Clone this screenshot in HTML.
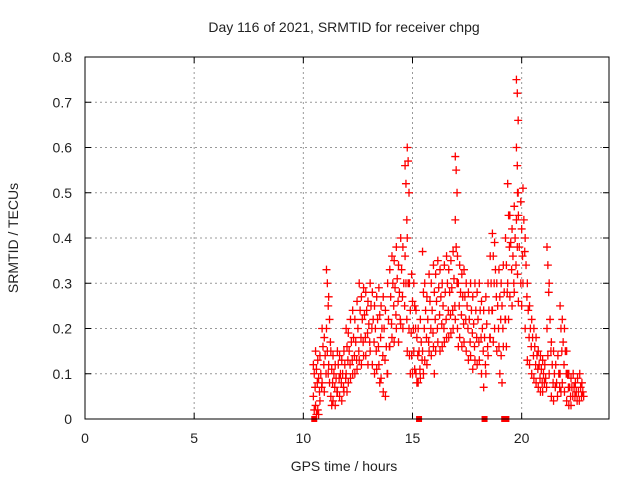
<!DOCTYPE html>
<html><head><meta charset="utf-8"><style>
body{margin:0;background:#fff}
svg text{font-family:"Liberation Sans",sans-serif;font-size:14px;fill:#222}
</style></head><body>
<svg id="chart" width="640" height="480" xmlns="http://www.w3.org/2000/svg">
<text x="344" y="32" text-anchor="middle">Day 116 of 2021, SRMTID for receiver chpg</text>
<text x="344" y="471" text-anchor="middle">GPS time / hours</text>
<text x="18" y="238" text-anchor="middle" transform="rotate(-90 18 238)">SRMTID / TECUs</text>
<g id="grid"></g>
<g id="ticks"></g>
<g id="points"></g>
<rect x="85" y="57" width="524" height="362" fill="none" stroke="#000" stroke-width="1"/>
</svg>
<script>
const xTicks=[0,5,10,15,20];
const yTicks=[0,0.1,0.2,0.3,0.4,0.5,0.6,0.7,0.8];
const yTickLabels=["0","0.1","0.2","0.3","0.4","0.5","0.6","0.7","0.8"];
const sampleHours=[10.5,10.6,10.7,10.8,10.9,11.0,11.1,11.2,11.3,11.4,11.5,11.6,11.7,11.8,11.9,12.0,12.1,12.2,12.3,12.4,12.5,12.6,12.7,12.8,12.9,13.0,13.1,13.2,13.3,13.4,13.5,13.6,13.7,13.8,13.9,14.0,14.1,14.2,14.3,14.4,14.5,14.6,14.7,14.8,14.9,15.0,15.1,15.2,15.3,15.4,15.5,15.6,15.7,15.8,15.9,16.0,16.1,16.2,16.3,16.4,16.5,16.6,16.7,16.8,16.9,17.0,17.1,17.2,17.3,17.4,17.5,17.6,17.7,17.8,17.9,18.0,18.1,18.2,18.3,18.4,18.5,18.6,18.7,18.8,18.9,19.0,19.1,19.2,19.3,19.4,19.5,19.6,19.7,19.8,19.85,20.0,20.1,20.2,20.3,20.4,20.5,20.6,20.7,20.8,20.9,21.0,21.1,21.2,21.3,21.4,21.5,21.6,21.7,21.8,21.9,22.0,22.1,22.2,22.3,22.4,22.5,22.6,22.7,22.8];
const sampleValues=[
[0.12,0.1,0.07,0.05,0.02],[0.15,0.11,0.08,0.03,0.01],[0.13,0.09,0.06,0.02,0.01],[0.14,0.1,0.07,0.04],[0.2,0.16,0.12,0.08],[0.18,0.14,0.1,0.06],
[0.33,0.3,0.25,0.2,0.15,0.1],[0.27,0.22,0.17,0.12,0.08],[0.15,0.11,0.08,0.05,0.03],[0.14,0.1,0.07,0.04],[0.12,0.09,0.06,0.03],[0.15,0.12,0.09,0.06],[0.14,0.1,0.08,0.05],[0.13,0.1,0.07,0.04],[0.15,0.12,0.09,0.06],
[0.2,0.16,0.13,0.1,0.06],[0.19,0.15,0.12,0.08],[0.22,0.17,0.13,0.09],[0.24,0.18,0.14,0.1],[0.22,0.17,0.13,0.1],[0.26,0.2,0.15,0.11],[0.3,0.24,0.18,0.13],[0.27,0.22,0.17,0.12],[0.29,0.23,0.18,0.14],[0.28,0.24,0.19,0.14],
[0.26,0.21,0.17,0.12],[0.3,0.25,0.2,0.15],[0.28,0.22,0.17,0.12],[0.25,0.2,0.15,0.1],[0.27,0.22,0.16,0.11],[0.29,0.23,0.18,0.12,0.08],[0.25,0.2,0.14,0.09],[0.27,0.2,0.13,0.06],[0.24,0.16,0.1,0.05],[0.3,0.22,0.16,0.1],
[0.33,0.27,0.21,0.16],[0.36,0.3,0.25,0.18],[0.35,0.29,0.23,0.17],[0.38,0.31,0.26,0.2],[0.34,0.28,0.22,0.17],[0.4,0.33,0.27,0.21],[0.38,0.3,0.25,0.2],[0.56,0.52,0.44,0.36,0.3,0.22],[0.6,0.57,0.5,0.4,0.3,0.2,0.15],[0.3,0.24,0.19,0.14,0.1],
[0.32,0.26,0.2,0.14,0.1],[0.3,0.25,0.2,0.15,0.11],[0.24,0.18,0.14,0.1,0.08],[0.2,0.15,0.11,0.08],[0.22,0.17,0.13,0.09],[0.37,0.28,0.2,0.15,0.1],[0.3,0.24,0.18,0.13],[0.27,0.22,0.17,0.12],[0.32,0.26,0.2,0.15],[0.3,0.24,0.19,0.14],
[0.34,0.28,0.22,0.16,0.1],[0.32,0.26,0.2,0.15],[0.35,0.29,0.23,0.17],[0.33,0.27,0.21,0.15],[0.3,0.25,0.2,0.16],[0.34,0.28,0.22,0.17],[0.36,0.3,0.24,0.18],[0.33,0.28,0.23,0.18],[0.35,0.29,0.24,0.19],[0.37,0.31,0.25,0.2],
[0.58,0.55,0.5,0.44,0.38,0.3,0.22],[0.36,0.3,0.25,0.2,0.16],[0.34,0.28,0.23,0.18],[0.32,0.27,0.21,0.16],[0.33,0.27,0.22,0.17],[0.3,0.25,0.2,0.15],[0.28,0.22,0.17,0.13],[0.3,0.24,0.19,0.14],[0.27,0.21,0.16,0.11],[0.3,0.24,0.18,0.13],
[0.28,0.22,0.17,0.12],[0.3,0.24,0.18,0.13],[0.26,0.2,0.15,0.1],[0.24,0.18,0.12,0.07],[0.27,0.21,0.16,0.1],[0.3,0.24,0.18,0.14],[0.36,0.3,0.24,0.18],[0.41,0.36,0.3,0.24,0.17],[0.39,0.33,0.27,0.2],[0.3,0.25,0.2,0.15],
[0.33,0.27,0.22,0.16,0.1],[0.3,0.25,0.2,0.14,0.08],[0.34,0.28,0.22,0.16],[0.4,0.34,0.28,0.22,0.16],[0.52,0.45,0.38,0.3,0.22],[0.45,0.39,0.33,0.27],[0.42,0.36,0.3,0.25],[0.47,0.4,0.34,0.28],[0.75,0.72,0.66,0.6,0.56,0.5,0.44,0.38],[0.5,0.45,0.38,0.32,0.26],
[0.48,0.42,0.36,0.3,0.25],[0.51,0.44,0.37,0.3],[0.4,0.34,0.27,0.2],[0.3,0.24,0.18,0.13],[0.25,0.2,0.16,0.12],[0.22,0.18,0.14,0.1],[0.2,0.16,0.12,0.09],[0.18,0.14,0.11,0.08],[0.15,0.12,0.09,0.07],
[0.14,0.11,0.08,0.06],[0.13,0.1,0.08,0.06],[0.12,0.09,0.07],[0.38,0.34,0.28,0.2,0.14],[0.3,0.22,0.15,0.1],[0.17,0.12,0.08,0.05],[0.15,0.1,0.07,0.04],[0.12,0.08,0.05],[0.14,0.1,0.07],
[0.25,0.2,0.15,0.1,0.06],[0.22,0.17,0.12,0.08],[0.2,0.15,0.1,0.06],[0.15,0.1,0.07,0.04],[0.1,0.07,0.05,0.03],[0.09,0.07,0.05,0.03],[0.1,0.07,0.05],[0.08,0.06,0.04],
[0.09,0.06,0.04],[0.1,0.07,0.05],[0.08,0.06,0.05]
];
const zeroHours=[10.5,15.3,18.3,19.2,19.3];

const X0=85,X1=609,Y0=419,Y1=57,XMAX=24,YMAX=0.8;
function xs(h){return X0+(X1-X0)*h/XMAX;}
function ys(v){return Y0-(Y0-Y1)*v/YMAX;}
const NS="http://www.w3.org/2000/svg";
function mk(tag,attrs,parent){const e=document.createElementNS(NS,tag);for(const k in attrs)e.setAttribute(k,attrs[k]);parent.appendChild(e);return e;}
const grid=document.getElementById('grid'),ticks=document.getElementById('ticks'),pts=document.getElementById('points');
xTicks.forEach(t=>{
  const x=xs(t);
  if(t>0){const g=mk('line',{x1:x,x2:x,y1:Y1,y2:Y0,stroke:'#999','stroke-dasharray':'2,3'},grid);
  
  }
  mk('line',{x1:x,x2:x,y1:Y0,y2:Y0-6,stroke:'#000'},ticks);
  mk('line',{x1:x,x2:x,y1:Y1,y2:Y1+6,stroke:'#000'},ticks);
  const l=mk('text',{x:x,y:443,'text-anchor':'middle'},ticks);l.textContent=String(t);
  
  
});
yTicks.forEach((t,i)=>{
  const y=ys(t);
  if(t>0&&t<YMAX){const g=mk('line',{x1:X0,x2:X1,y1:y,y2:y,stroke:'#999','stroke-dasharray':'2,3'},grid);
  
  }
  mk('line',{x1:X0,x2:X0+6,y1:y,y2:y,stroke:'#000'},ticks);
  mk('line',{x1:X1,x2:X1-6,y1:y,y2:y,stroke:'#000'},ticks);
  const l=mk('text',{x:72,y:y+5,'text-anchor':'end'},ticks);l.textContent=yTickLabels[i];
  
  
});
let d='';
sampleHours.forEach((h,i)=>{
  (sampleValues[i]||[]).forEach((v,j)=>{
    const x=xs(h+((j%3)-1)*0.04),y=ys(v);
    d+=`M${x-4},${y}h8M${x},${y-4}v8`;
  });
});
const p=mk('path',{d:d,stroke:'#f00','stroke-width':1.3,fill:'none'},pts);


zeroHours.forEach(h=>{
  const r=mk('rect',{x:xs(h)-3,y:Y0-3,width:6,height:6,fill:'#f00'},pts);
  
  
});
</script>
</body></html>
